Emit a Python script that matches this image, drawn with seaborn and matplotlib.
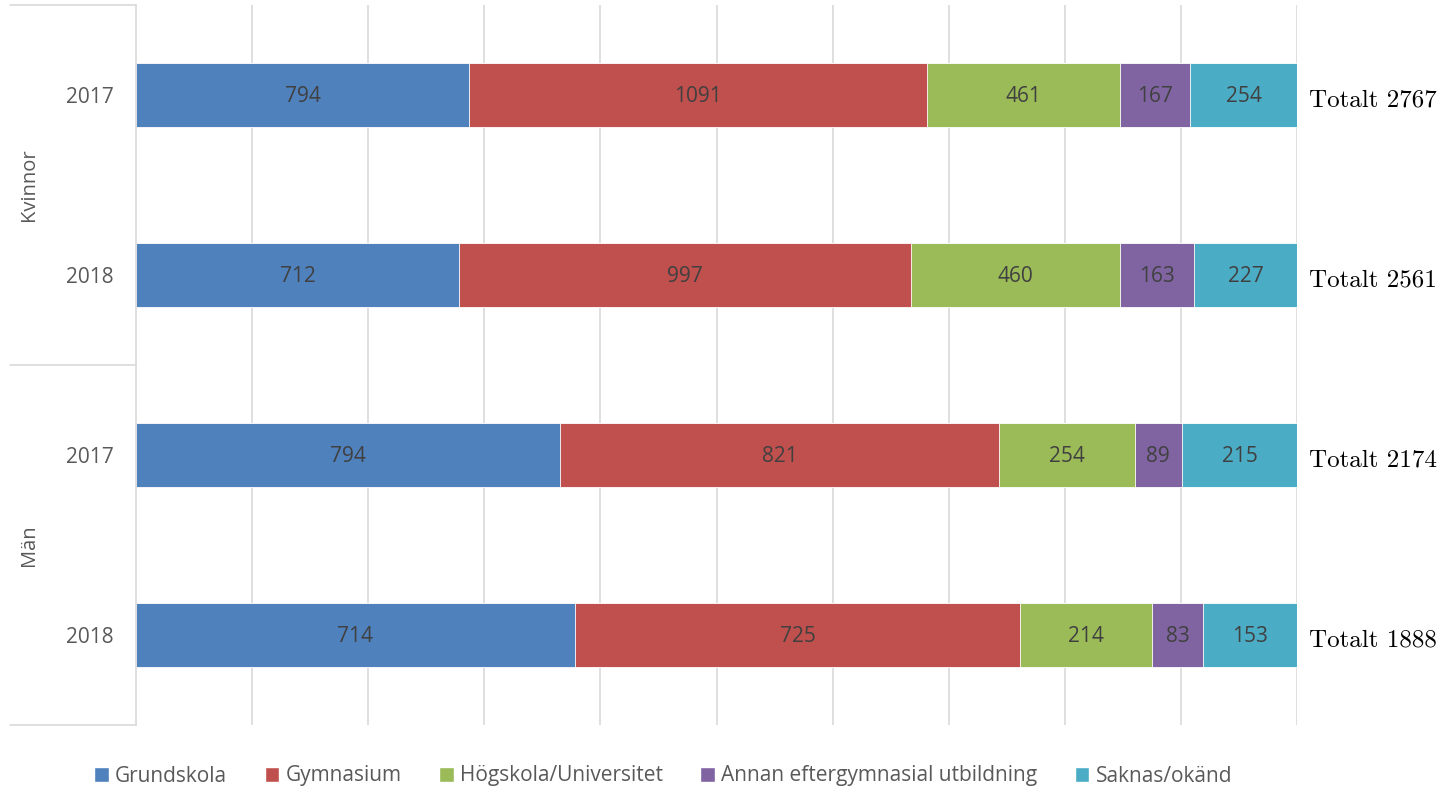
import matplotlib
matplotlib.use('Agg')
import matplotlib.pyplot as plt
import matplotlib.transforms as mtransforms
from matplotlib.patches import Patch
import seaborn as sns
import numpy as np
import pandas as pd

# data
groups = ['Kvinnor', 'Kvinnor', 'Män', 'Män']
years = ['2017', '2018', '2017', '2018']
categories = ['Grundskola', 'Gymnasium', 'Högskola/Universitet',
              'Annan eftergymnasial utbildning', 'Saknas/okänd']
grundskola = [794, 712, 794, 714]
gymnasium = [1091, 997, 821, 725]
hogskola = [461, 460, 254, 214]
annan = [167, 163, 89, 83]
saknas = [254, 227, 215, 153]
totals = [2767, 2561, 2174, 1888]

colors = ['#4F81BD', '#C0504D', '#9BBB59', '#8064A2', '#4BACC6']

sns.set_style('white')
plt.rcParams['font.family'] = ['Open Sans', 'DejaVu Sans']

rows = [f'{g} {y}' for g, y in zip(groups, years)]
vals = np.array([grundskola, gymnasium, hogskola, annan, saknas], dtype=float)
tot = vals.sum(axis=0)
pct = vals / tot * 100
cum = np.cumsum(pct, axis=0)

fig = plt.figure(figsize=(14.45, 7.91), dpi=100)
ax = fig.add_axes([136 / 1445, 1 - 725 / 791, (1297 - 136) / 1445, 720 / 791])

# gridlines behind bars
for gx in np.arange(10, 101, 10):
    ax.axvline(gx, color='#D9D9D9', lw=1.2, zorder=0)

# stacked bars: draw cumulative from last to first so each overlays
for i in range(len(categories) - 1, -1, -1):
    df = pd.DataFrame({'row': rows, 'value': cum[i]})
    sns.barplot(data=df, x='value', y='row', orient='y', color=colors[i],
                width=0.355, saturation=1, ax=ax, zorder=2,
                edgecolor='white', linewidth=0.6)

# segment labels
for i in range(len(categories)):
    left = cum[i] - pct[i]
    for r in range(len(rows)):
        ax.text(left[r] + pct[i][r] / 2, r + 0.01, f'{int(vals[i][r])}',
                ha='center', va='center', fontsize=15, color='#404040', zorder=3)

# totals
for r in range(len(rows)):
    ax.text(101, r + 0.03, f'Totalt {totals[r]}', ha='left', va='center', fontsize=18,
            color='black', family=['cmr10', 'DejaVu Serif'], clip_on=False)

ax.set_xlim(0, 100)
ax.set_ylim(3.5, -0.5)
ax.set_xlabel('')
ax.set_ylabel('')
ax.set_xticks([])
ax.set_yticks(range(len(rows)))
ax.set_yticklabels(years, fontsize=15, color='#595959')
ax.tick_params(axis='y', length=0, pad=16)
for s in ['top', 'right', 'bottom']:
    ax.spines[s].set_visible(False)
ax.spines['left'].set_color('#D9D9D9')
ax.spines['left'].set_linewidth(1.2)

# group separators and labels
trans = mtransforms.blended_transform_factory(fig.transFigure, ax.transData)
for yy in [-0.5, 1.5, 3.5]:
    ax.plot([10 / 1445, 136 / 1445], [yy, yy], transform=trans, color='#D9D9D9',
            lw=1.2, clip_on=False)
for gname, yc in [('Kvinnor', 0.5), ('Män', 2.5)]:
    fig.text(29 / 1445, yc, gname, transform=trans, rotation=90, ha='center',
             va='center', fontsize=14.5, color='#595959')

handles = [Patch(facecolor=c, label=l) for c, l in zip(colors, categories)]
fig.legend(handles=handles, loc='center', bbox_to_anchor=(0.459, 1 - 776 / 791),
           ncol=5, frameon=False, fontsize=15, handlelength=0.7, handleheight=0.7,
           handletextpad=0.3, columnspacing=1.8, labelcolor='#595959')

fig.savefig('out.png', dpi=100)
plt.close(fig)
